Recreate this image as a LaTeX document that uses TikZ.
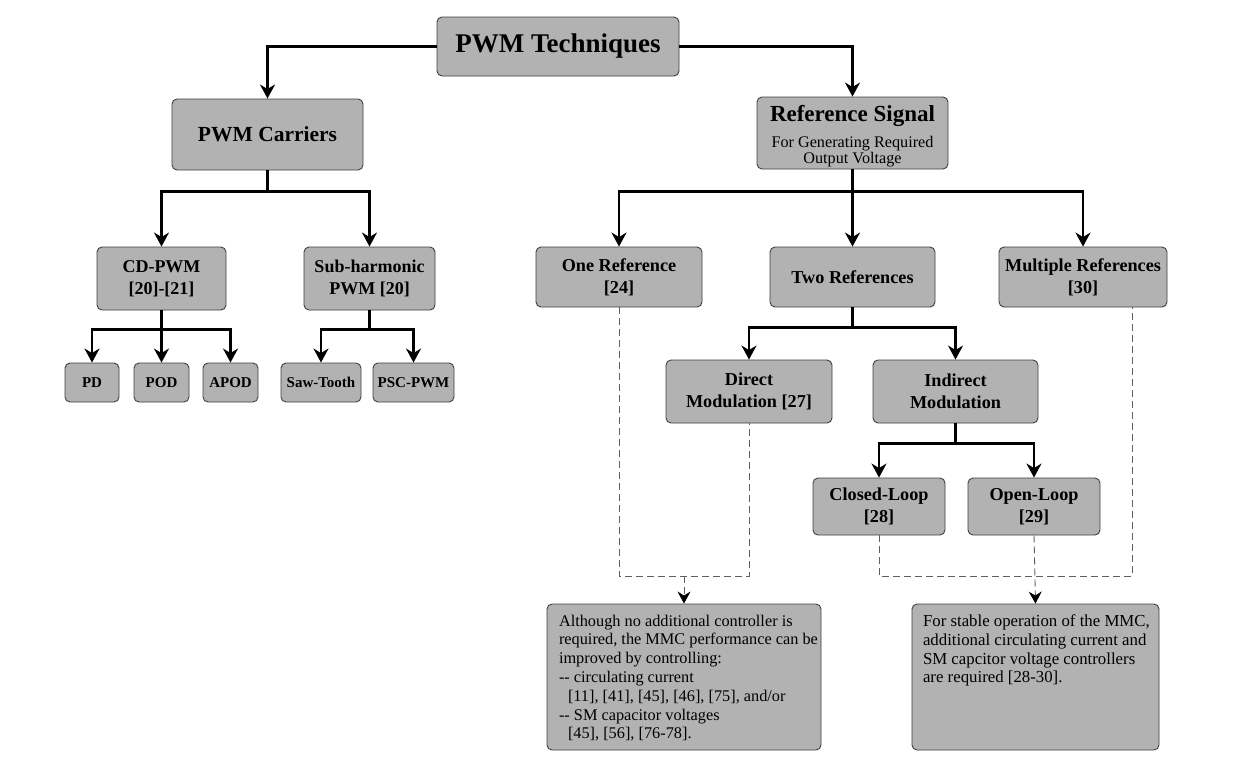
\documentclass[tikz,border=0pt]{standalone}
\usepackage{fontspec}
\setmainfont{Liberation Serif}
\usetikzlibrary{arrows.meta,calc}
\definecolor{boxfill}{RGB}{178,178,178}
\definecolor{boxline}{RGB}{64,64,64}
\definecolor{dashcol}{RGB}{95,95,95}
\tikzset{
  box/.style={draw=boxline, fill=boxfill, line width=0.9pt, rounded corners=5pt,
    inner sep=0pt, align=center},
  conn/.style={line width=2.2pt, -{Stealth[length=14pt,width=15pt,inset=4.5pt]}},
  link/.style={line width=2.2pt},
  dashl/.style={draw=dashcol, line width=0.9pt, dash pattern=on 7pt off 4pt},
  dasharr/.style={dashl, -{Stealth[length=12pt,width=13pt,inset=4pt,color=black]}},
  fbig/.style={font=\fontsize{27}{30}\selectfont\bfseries},
  fhead/.style={font=\fontsize{21.5}{25}\selectfont\bfseries},
  fmid/.style={font=\fontsize{18.2}{22}\selectfont\bfseries},
  fleaf/.style={font=\fontsize{15}{17}\selectfont\bfseries},
  txtbox/.style={box, inner xsep=12pt, inner ysep=9pt, align=left},
}
\begin{document}
\begin{tikzpicture}[x=1pt,y=-1pt]
\useasboundingbox[fill=white] (0,0) rectangle (1238,777);

% level 0 and 1
\node[box,fbig,minimum width=242pt,minimum height=59pt] (tech) at (558,46.5) {PWM Techniques};
\node[box,fhead,minimum width=191pt,minimum height=71pt] (carriers) at (267.5,134.5) {PWM Carriers};
\node[box,minimum width=191pt,minimum height=72pt] (ref) at (852.5,133)
  {\parbox{186pt}{\vspace*{6pt}\centering{\fontsize{23}{26}\selectfont\bfseries Reference Signal\par}\vspace{9.5pt}
   {\fontsize{16.2}{16.5}\selectfont For Generating Required\\ Output Voltage\par}}};

% carriers branch
\node[box,fmid,font=\fontsize{18}{22}\selectfont\bfseries,minimum width=129pt,minimum height=63pt] (cd) at (161.5,278.5) {CD-PWM\\{[20]-[21]}};
\node[box,fmid,font=\fontsize{18}{22}\selectfont\bfseries,minimum width=131pt,minimum height=63pt] (sub) at (369.5,278.5) {Sub-harmonic\\PWM [20]};
\node[box,fleaf,minimum width=54pt,minimum height=39pt] (pd) at (92,382.5) {PD};
\node[box,fleaf,minimum width=55pt,minimum height=39pt] (pod) at (161.5,382.5) {POD};
\node[box,fleaf,minimum width=55pt,minimum height=39pt] (apod) at (230.5,382.5) {APOD};
\node[box,fleaf,minimum width=80pt,minimum height=39pt] (saw) at (321,382.5) {Saw-Tooth};
\node[box,fleaf,minimum width=81pt,minimum height=39pt] (psc) at (413.5,382.5) {PSC-PWM};

% reference branch
\node[box,fmid,minimum width=166pt,minimum height=60pt] (one) at (619,277) {One Reference\\{[24]}};
\node[box,fmid,minimum width=165pt,minimum height=60pt] (two) at (852.5,277) {Two References};
\node[box,fmid,minimum width=168pt,minimum height=60pt] (multi) at (1083,277) {Multiple References\\{[30]}};
\node[box,fmid,minimum width=166pt,minimum height=63pt] (direct) at (749,391.5) {Direct\\Modulation [27]};
\node[box,fmid,minimum width=165pt,minimum height=63pt] (indirect) at (955.5,391.5) {Indirect\\Modulation};
\node[box,fmid,minimum width=132pt,minimum height=57pt] (closed) at (879,506.5) {Closed-Loop\\{[28]}};
\node[box,fmid,minimum width=132pt,minimum height=57pt] (open) at (1034,506.5) {Open-Loop\\{[29]}};

% text boxes
\node[txtbox,minimum width=274pt,minimum height=146pt] (lbox) at (684,677)
  {\parbox[c][128pt][t]{250pt}{\fontsize{16.3}{18.8}\selectfont
   \begin{tabular}{@{}l@{}}
   Although no additional controller is\\
   required, the MMC performance can be\\
   improved by controlling:\\
   -{}- circulating current\\
   \hspace*{9pt}[11], [41], [45], [46], [75], and/or\\
   -{}- SM capacitor voltages\\
   \hspace*{9pt}[45], [56], [76-78].
   \end{tabular}}};
\node[txtbox,inner xsep=11pt,minimum width=247pt,minimum height=146pt] (rbox) at (1035.5,677)
  {\parbox[c][128pt][t]{225pt}{\fontsize{16.8}{18.9}\selectfont
   \begin{tabular}{@{}l@{}}
   For stable operation of the MMC,\\
   additional circulating current and\\
   SM capcitor voltage controllers\\
   are required [28-30].
   \end{tabular}}};

% solid connectors
\draw[conn] (tech.west) -| (carriers.north);
\draw[conn] (tech.east) -| (ref.north);

\coordinate (jc) at ($(carriers.south)+(0,21)$);
\draw[link] (carriers.south) -- (jc);
\draw[conn] (jc) -| (cd.north);
\draw[conn] (jc) -| (sub.north);

\coordinate (jcd) at ($(cd.south)+(0,19)$);
\draw[link] (cd.south) -- (jcd);
\draw[conn] (jcd) -| (pd.north);
\draw[conn] (jcd) -- (pod.north);
\draw[conn] (jcd) -| (apod.north);

\coordinate (jsub) at ($(sub.south)+(0,19)$);
\draw[link] (sub.south) -- (jsub);
\draw[conn] (jsub) -| (saw.north);
\draw[conn] (jsub) -| (psc.north);

\coordinate (jref) at ($(ref.south)+(0,22)$);
\draw[link] (ref.south) -- (jref);
\draw[conn] (jref) -| (one.north);
\draw[conn] (jref) -- (two.north);
\draw[conn] (jref) -| (multi.north);

\coordinate (jtwo) at ($(two.south)+(0,20)$);
\draw[link] (two.south) -- (jtwo);
\draw[conn] (jtwo) -| (direct.north);
\draw[conn] (jtwo) -| (indirect.north);

\coordinate (jind) at ($(indirect.south)+(0,20)$);
\draw[link] (indirect.south) -- (jind);
\draw[conn] (jind) -| (closed.north);
\draw[conn] (jind) -| (open.north);

% dashed connectors
\coordinate (jl) at (684,576);
\draw[dashl] (one.south) |- (jl) -| (direct.south);
\draw[dasharr] (jl) -- (lbox.north);
\coordinate (jr) at (1034,576);
\coordinate (mr) at ($(multi.south east)+(-35,0)$);
\draw[dashl] (closed.south) |- (jr) -| (mr);
\draw[dasharr] (open.south) -- (rbox.north);
\end{tikzpicture}
\end{document}
